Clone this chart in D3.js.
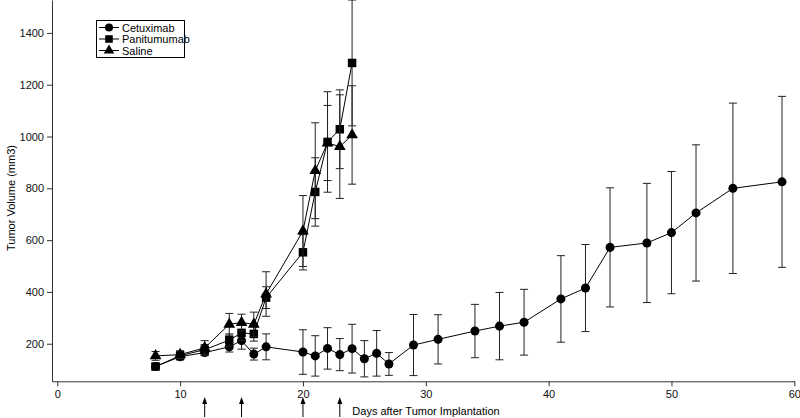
<!DOCTYPE html>
<html>
<head>
<meta charset="utf-8">
<script src="https://cdn.jsdelivr.net/npm/d3@7"></script>
<style>
  body { margin: 0; background: #fff; }
  text { font-family: "Liberation Sans", Arial, sans-serif; }
</style>
</head>
<body>
<script>
// data
const cetuxDays = [8, 10, 12, 14, 15, 16, 17, 20, 21, 22, 23, 24, 25, 26, 27, 29, 31, 34, 36, 38, 41, 43, 45, 48, 50, 52, 55, 59];
const cetuxValues = [112, 150, 166, 188, 212, 160, 188, 168, 153, 182, 158, 181, 142, 163, 122, 195, 217, 249, 268, 283, 373, 415, 572, 589, 629, 705, 800, 825];
const cetuxErr = [10, 12, 12, 20, 33, 23, 50, 86, 78, 80, 62, 94, 70, 88, 44, 118, 95, 103, 130, 127, 167, 168, 230, 230, 236, 263, 329, 330];

const panDays = [8, 10, 12, 14, 15, 16, 17, 20, 21, 22, 23, 24];
const panValues = [112, 154, 177, 214, 242, 238, 378, 553, 786, 979, 1028, 1284];
const panErr = [12, 16, 20, 24, 30, 28, 42, 68, 132, 194, 152, 243];

const salDays = [8, 10, 12, 14, 15, 16, 17, 20, 21, 22, 23, 24];
const salValues = [153, 158, 184, 275, 282, 275, 392, 635, 868, 975, 961, 1006];
const salErr = [17, 15, 28, 42, 32, 47, 86, 137, 185, 145, 200, 190];

const treatmentDays = [12, 15, 20, 23];
const xTicks = [0, 10, 20, 30, 40, 50, 60];
const yTicks = [200, 400, 600, 800, 1000, 1200, 1400];

const width = 800, height = 418;

const svg = d3.select('body')
  .append('svg')
  .attr('width', width)
  .attr('height', height);

const x = d3.scaleLinear().domain([-0.43, 60]).range([52, 794.3]);
const y = d3.scaleLinear().domain([55, 1527]).range([381.3, 0]);

svg.append('defs').append('clipPath').attr('id', 'plot')
  .append('rect').attr('x', 45).attr('y', 0).attr('width', 760).attr('height', 382);

// axes
const xAxis = d3.axisBottom(x).tickValues(xTicks).tickSize(5).tickSizeOuter(0).tickPadding(4);
const yAxis = d3.axisLeft(y).tickValues(yTicks).tickFormat(d3.format('d'))
  .tickSize(5).tickSizeOuter(0).tickPadding(3);

const gx = svg.append('g').attr('transform', 'translate(0,381.3)').call(xAxis);
const gy = svg.append('g').attr('transform', 'translate(52,0)').call(yAxis);
[gx, gy].forEach(g => {
  g.selectAll('path, line').attr('stroke', '#333');
  g.selectAll('text').attr('font-size', 11).attr('fill', '#111')
    .attr('font-family', '"Liberation Sans", Arial, sans-serif');
});

svg.append('text')
  .attr('x', 426).attr('y', 415)
  .attr('text-anchor', 'middle')
  .attr('font-size', 11)
  .text('Days after Tumor Implantation');

svg.append('text')
  .attr('transform', 'translate(15,198) rotate(-90)')
  .attr('text-anchor', 'middle')
  .attr('font-size', 11)
  .text('Tumor Volume (mm3)');

// treatment arrows under the x axis
const arrows = svg.append('g');
treatmentDays.forEach(d => {
  const cx = x(d);
  arrows.append('line')
    .attr('x1', cx).attr('x2', cx).attr('y1', 417).attr('y2', 402)
    .attr('stroke', '#000').attr('stroke-width', 1);
  arrows.append('path')
    .attr('d', `M${cx - 2.5},404 L${cx},397 L${cx + 2.5},404 Z`)
    .attr('fill', '#000');
});

const series = [
  { name: 'Cetuximab', days: cetuxDays, values: cetuxValues, err: cetuxErr, symbol: d3.symbolCircle, size: 64 },
  { name: 'Panitumumab', days: panDays, values: panValues, err: panErr, symbol: d3.symbolSquare, size: 72 },
  { name: 'Saline', days: salDays, values: salValues, err: salErr, symbol: d3.symbolTriangle, size: 60 }
];

const plot = svg.append('g').attr('clip-path', 'url(#plot)');
const line = d3.line().x(d => x(d.day)).y(d => y(d.value));
const capW = 4;

series.forEach(s => {
  const pts = s.days.map((d, i) => ({ day: d, value: s.values[i], err: s.err[i] }));
  const g = plot.append('g');

  const eb = g.selectAll('g.err').data(pts).enter().append('g')
    .attr('stroke', '#222').attr('stroke-width', 1);
  eb.append('line')
    .attr('x1', d => x(d.day)).attr('x2', d => x(d.day))
    .attr('y1', d => y(d.value - d.err)).attr('y2', d => y(d.value + d.err));
  eb.append('line')
    .attr('x1', d => x(d.day) - capW).attr('x2', d => x(d.day) + capW)
    .attr('y1', d => y(d.value + d.err)).attr('y2', d => y(d.value + d.err));
  eb.append('line')
    .attr('x1', d => x(d.day) - capW).attr('x2', d => x(d.day) + capW)
    .attr('y1', d => y(d.value - d.err)).attr('y2', d => y(d.value - d.err));

  g.append('path').datum(pts)
    .attr('d', line)
    .attr('fill', 'none').attr('stroke', '#000').attr('stroke-width', 1);

  g.selectAll('path.mark').data(pts).enter().append('path')
    .attr('class', 'mark')
    .attr('d', d3.symbol().type(s.symbol).size(s.size))
    .attr('transform', d => `translate(${x(d.day)},${y(d.value)})`)
    .attr('fill', '#000');
});

// legend
const legend = svg.append('g');
legend.append('rect')
  .attr('x', 96.5).attr('y', 20.5).attr('width', 88).attr('height', 37)
  .attr('fill', '#fff').attr('stroke', '#000').attr('stroke-width', 1);
series.forEach((s, i) => {
  const ly = 27.5 + i * 11.5;
  legend.append('line')
    .attr('x1', 99).attr('x2', 119).attr('y1', ly).attr('y2', ly)
    .attr('stroke', '#000');
  legend.append('path')
    .attr('d', d3.symbol().type(s.symbol).size(s.size * 0.8))
    .attr('transform', `translate(109,${ly})`)
    .attr('fill', '#000');
  legend.append('text')
    .attr('x', 122).attr('y', ly + 4)
    .attr('font-size', 11)
    .text(s.name);
});
</script>
</body>
</html>
